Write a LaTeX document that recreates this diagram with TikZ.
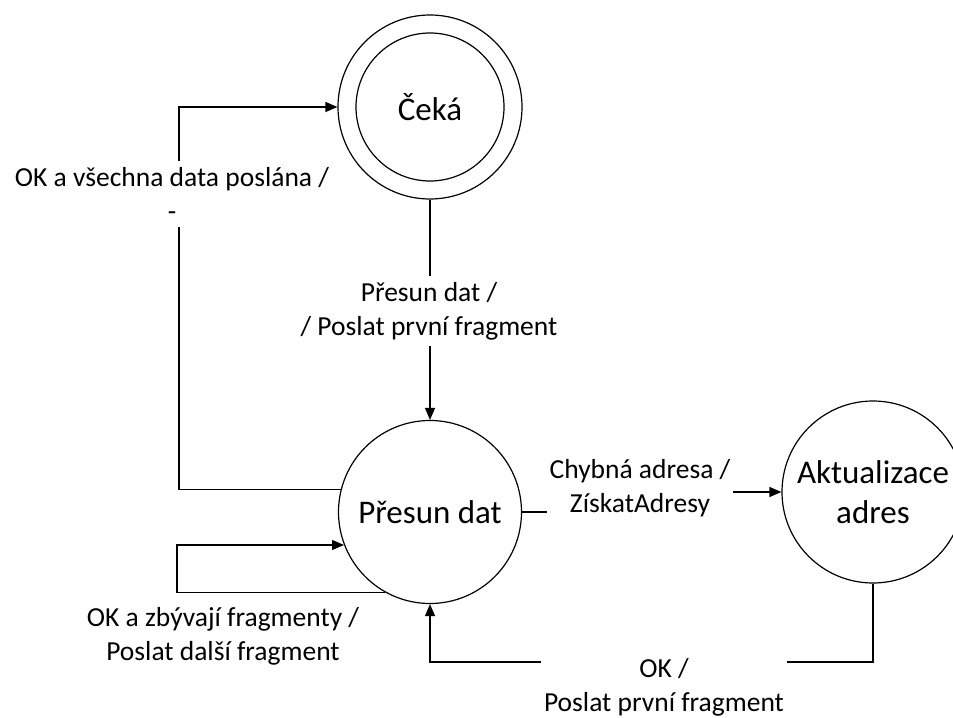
\documentclass[tikz,border=0pt]{standalone}
\usepackage{fontspec}
\setmainfont{Carlito}
\usetikzlibrary{arrows.meta}
\begin{document}
\begin{tikzpicture}[x=1bp,y=-1bp,
  line width=1.2bp,
  state/.style={circle, draw, inner sep=0pt, minimum size=183bp, align=center,
    font=\fontsize{33bp}{40bp}\selectfont},
  flow/.style={-{Triangle[length=12bp,width=10bp]}},
  lbl/.style={fill=white, align=center, inner xsep=3bp, inner ysep=6bp,
    font=\fontsize{27.5bp}{34bp}\selectfont}]

\useasboundingbox (0,0) rectangle (953,718);
\clip (0,0) rectangle (953,718);

% states
\node[state, minimum size=184bp] (ceka) at (430,107) {Čeká};
\node[state, minimum size=148bp] (cekain) at (ceka.center) {};
\node[state] (pd) at (430,512) {Přesun dat};
\node[state, minimum size=182bp] (ak) at (873,492) {Aktualizace\\adres};

% bend points
\coordinate (L) at (179,300);
\coordinate (C) at (177,570);
\coordinate (J) at (640,502);
\coordinate (B) at (0,662);

% transitions
\draw[flow] (ceka.south) -- (pd.north);
\draw[flow] (pd.166) -| (L) |- (ceka.west);
\draw[flow] (pd.241) -| (C) |- (pd.201);
\draw[flow] (pd.east) -| (J) |- (ak.west);
\draw[flow] (ak.south) |- (pd.south |- B) -- (pd.south);

% transition labels
\node[lbl] (t1) at (172,194) {OK a všechna data poslána /\\-};
\node[lbl] (t2) at (429,311) {Přesun dat /\\/ Poslat první fragment};
\node[lbl] (t3) at (223,636) {OK a zbývají fragmenty /\\Poslat další fragment};
\node[lbl] (t4) at (640,488) {Chybná adresa /\\ZískatAdresy};
\node[lbl] (t5) at (664,687) {OK /\\Poslat první fragment};
\end{tikzpicture}
\end{document}
